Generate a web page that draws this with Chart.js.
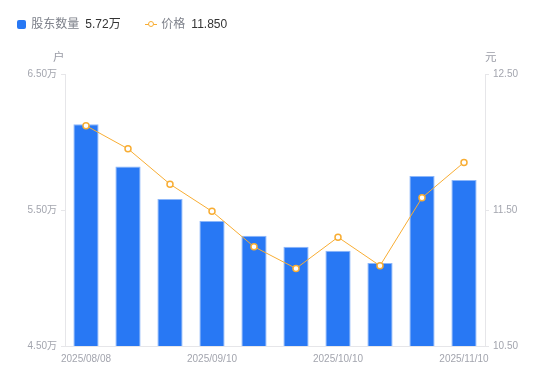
<!DOCTYPE html>
<html>
<head>
<meta charset="utf-8">
<script src="https://cdn.jsdelivr.net/npm/chart.js@4/dist/chart.umd.min.js"></script>
<style>
  html, body { margin: 0; padding: 0; background: #fff; }
  body { width: 550px; height: 381px; position: relative; overflow: hidden;
         font-family: "Liberation Sans", Arial, "Noto Sans CJK SC", sans-serif; }
  #wrap { position: absolute; left: 0; top: 0; width: 550px; height: 381px; }
  .lg { position: absolute; top: 16px; height: 17px; line-height: 17px; font-size: 12px; white-space: nowrap; }
  .lg .name { color: #7d808a; }
  .lg .val { color: #333; margin-left: 6px; }
  .unit { position: absolute; font-size: 11.5px; color: #9a9ca6; line-height: 12px; }
</style>
</head>
<body>
<div id="wrap"><canvas id="c" width="550" height="381"></canvas></div>
<div class="lg" style="left:17px;">
  <span style="display:inline-block;width:9px;height:9px;background:#2878f4;border-radius:2px;vertical-align:-1px;"></span>
  <span class="name" style="margin-left:2px;">股东数量</span><span class="val">5.72万</span>
</div>
<div class="lg" style="left:145px;">
  <span style="display:inline-block;position:relative;width:12px;height:9px;vertical-align:-1px;">
    <span style="position:absolute;left:0;top:4px;width:12px;height:1px;background:#f8ad33;"></span>
    <span style="position:absolute;left:3px;top:1px;width:4px;height:4px;border:1.5px solid #f8ad33;border-radius:50%;background:#fff;"></span>
  </span>
  <span class="name" style="margin-left:1px;">价格</span><span class="val">11.850</span>
</div>
<div class="unit" style="left:53px;top:51px;">户</div>
<div class="unit" style="left:485px;top:51px;">元</div>
<script>
const dates = ['2025/08/08','2025/08/20','2025/08/29','2025/09/10','2025/09/19','2025/09/30','2025/10/10','2025/10/20','2025/10/31','2025/11/10'];
const shareholders = [6.13, 5.82, 5.58, 5.42, 5.31, 5.23, 5.20, 5.11, 5.75, 5.72]; // 万户
const prices = [12.12, 11.95, 11.69, 11.49, 11.23, 11.07, 11.30, 11.09, 11.59, 11.85];
const shownDateIdx = [0, 3, 6, 9];
const leftRange = [4.5, 6.5];
const rightRange = [10.5, 12.5];

const tickFont = { family: '"Liberation Sans", Arial, "Noto Sans CJK SC", sans-serif', size: 10 };
const tickColor = '#a3a5ae';
const lineCol = '#e6e6e9';

new Chart(document.getElementById('c'), {
  data: {
    labels: dates,
    datasets: [
      {
        type: 'line', label: '价格', data: prices, yAxisID: 'y1',
        borderColor: '#f8ad33', borderWidth: 1, backgroundColor: '#fff',
        pointRadius: 3, pointBorderWidth: 1.5, pointBackgroundColor: '#fff',
        pointBorderColor: '#f8ad33', tension: 0, order: 0
      },
      {
        type: 'bar', label: '股东数量', data: shareholders, yAxisID: 'y',
        backgroundColor: '#2878f4', borderColor: '#8db7fa', borderWidth: 1,
        barPercentage: 0.6, categoryPercentage: 1.0, order: 1
      }
    ]
  },
  options: {
    responsive: false, animation: false,
    layout: { padding: { top: 74, left: 0, right: 0, bottom: 0 } },
    plugins: { legend: { display: false }, tooltip: { enabled: false } },
    scales: {
      x: {
        type: 'category', offset: true,
        grid: { display: false, drawTicks: false },
        border: { display: true, color: lineCol },
        ticks: {
          autoSkip: false, maxRotation: 0, padding: 7, font: tickFont, color: tickColor,
          callback: function (v, i) { return shownDateIdx.includes(i) ? dates[i] : ''; }
        },
        afterFit: function (s) { s.height = 35; }
      },
      y: {
        position: 'left', min: leftRange[0], max: leftRange[1],
        grid: { drawOnChartArea: false, drawTicks: true, tickLength: 4, color: lineCol },
        border: { display: true, color: lineCol },
        ticks: { stepSize: 1, padding: 4, font: tickFont, color: tickColor,
          callback: v => v.toFixed(2) + '万' },
        afterFit: function (s) { s.width = 65; }
      },
      y1: {
        position: 'right', min: rightRange[0], max: rightRange[1],
        grid: { drawOnChartArea: false, drawTicks: true, tickLength: 4, color: lineCol },
        border: { display: true, color: lineCol },
        ticks: { stepSize: 1, padding: 4, font: tickFont, color: tickColor,
          callback: v => v.toFixed(2) },
        afterFit: function (s) { s.width = 65; }
      }
    }
  }
});
</script>
</body>
</html>
